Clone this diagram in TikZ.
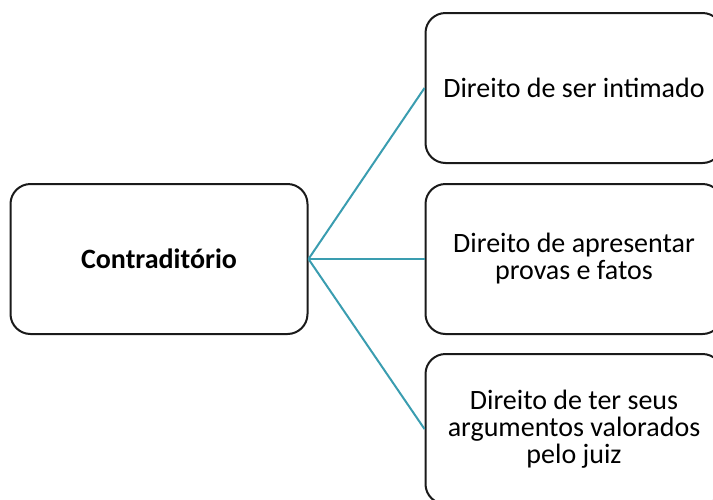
\documentclass[tikz,border=0pt]{standalone}
\usepackage{fontspec}
\setmainfont{Carlito}
\usepackage{xcolor}
\definecolor{linkteal}{HTML}{3A9DB0}
\definecolor{boxline}{HTML}{1A1A1A}
\tikzset{
  box/.style={draw=boxline, line width=2pt, rounded corners=20pt, fill=white,
    minimum width=297pt, minimum height=150pt, align=center, inner sep=0pt,
    font=\fontsize{28}{27}\selectfont},
  link/.style={linkteal, line width=2pt}
}

\begin{document}
\begin{tikzpicture}[x=1pt,y=-1pt]
\useasboundingbox (0,0) rectangle (713,499);
\clip (0,0) rectangle (713,499);
\node[box] (contra) at (159,259) {\textbf{Contraditório}};
\node[box] (intimado) at (574,88) {Direito de ser intimado};
\node[box] (provas) at (574,259) {Direito de apresentar\\provas e fatos};
\node[box] (juiz) at (574,429) {Direito de ter seus\\argumentos valorados\\pelo juiz};
\draw[link] (contra.east) -- (intimado.west);
\draw[link] (contra.east) -- (provas.west);
\draw[link] (contra.east) -- (juiz.west);
\end{tikzpicture}
\end{document}
